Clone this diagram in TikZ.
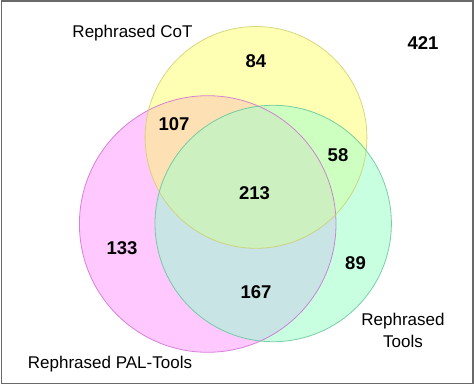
\documentclass[tikz,border=0pt]{standalone}
\usepackage{fontspec}
\setmainfont{Liberation Sans}
\definecolor{cM}{RGB}{255,200,255}
\definecolor{cY}{RGB}{255,255,180}
\definecolor{cG}{RGB}{200,255,225}
\definecolor{cMY}{RGB}{253,225,180}
\definecolor{cMG}{RGB}{200,228,228}
\definecolor{cYG}{RGB}{204,255,192}
\definecolor{cMYG}{RGB}{205,240,192}
\definecolor{eM}{RGB}{205,105,210}
\definecolor{eY}{RGB}{205,205,110}
\definecolor{eG}{RGB}{95,195,150}
\definecolor{frame}{RGB}{105,105,105}
\tikzset{
  num/.style={font=\fontsize{18.5}{22}\selectfont\bfseries, anchor=base, inner sep=0pt},
  lbl/.style={font=\fontsize{17}{22}\selectfont, anchor=base, inner sep=0pt},
  edge/.style={line width=0.8pt}
}
\begin{document}
\begin{tikzpicture}[x=1pt,y=-1pt]
\useasboundingbox (0,0) rectangle (474,385);
\coordinate (M) at (207.7,224);
\coordinate (Y) at (256,137.4);
\coordinate (G) at (273.2,223.5);
\def\rM{128.3pt}\def\rY{110.9pt}\def\rG{118.2pt}
\fill[cM] (M) circle (\rM);
\fill[cY] (Y) circle (\rY);
\fill[cG] (G) circle (\rG);
\begin{scope}\clip (M) circle (\rM); \fill[cMY] (Y) circle (\rY);\end{scope}
\begin{scope}\clip (M) circle (\rM); \fill[cMG] (G) circle (\rG);\end{scope}
\begin{scope}\clip (Y) circle (\rY); \fill[cYG] (G) circle (\rG);\end{scope}
\begin{scope}\clip (M) circle (\rM); \clip (Y) circle (\rY); \fill[cMYG] (G) circle (\rG);\end{scope}
\draw[edge, eM, draw opacity=0.8] (M) circle (\rM);
\draw[edge, eY, draw opacity=0.8] (Y) circle (\rY);
\draw[edge, eG, draw opacity=0.8] (G) circle (\rG);
\draw[frame, line width=1.5pt] (1.5,1) rectangle (472.8,383.5);
\node[lbl] (lcot) at (132.5,37.3) {Rephrased CoT};
\node[lbl] (ltools1) at (403,325) {Rephrased};
\node[lbl] (ltools2) at (403,347) {Tools};
\node[lbl] (lpal) at (110,368) {Rephrased PAL-Tools};
\node[num] (n84) at (256,67.3) {84};
\node[num] (n421) at (423,50) {421};
\node[num] (n107) at (174,131) {107};
\node[num] (n58) at (338,161.3) {58};
\node[num] (n213) at (254.5,199) {213};
\node[num] (n133) at (122,254.3) {133};
\node[num] (n89) at (355.5,269.3) {89};
\node[num] (n167) at (256,298.3) {167};
\end{tikzpicture}
\end{document}
